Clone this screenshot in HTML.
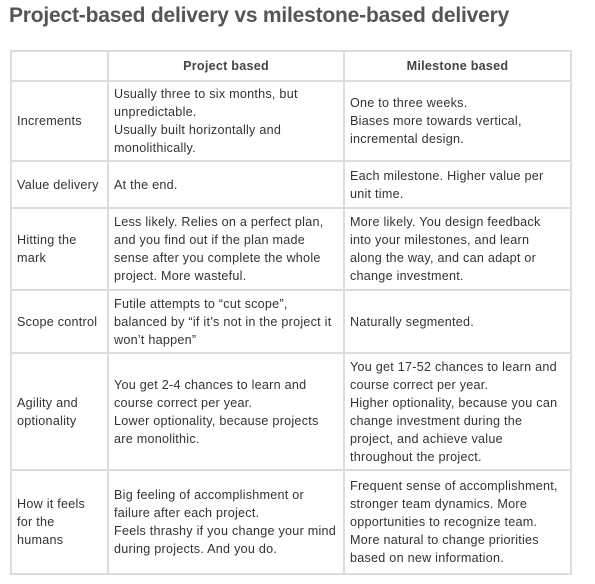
<!DOCTYPE html>
<html><head><style>
body{margin:0;width:595px;height:584px;background:#fff;font-family:"Liberation Sans",sans-serif;color:#333;}
h1{position:absolute;left:9px;top:4px;margin:0;font-size:21px;font-weight:bold;color:#555;letter-spacing:-0.2px;}
table{position:absolute;left:10px;top:50px;border-collapse:collapse;font-size:12.6px;line-height:18px;letter-spacing:0.25px;}
td,th{border:2px solid #ddd;padding:0 5px;vertical-align:middle;text-align:left;white-space:nowrap;}
th{text-align:center;font-weight:bold;color:#444;}
</style></head><body>
<h1>Project-based delivery vs milestone-based delivery</h1>
<table>
<colgroup><col style="width:97px"><col style="width:236px"><col style="width:227px"></colgroup>
<tr style="height:30px"><th></th><th>Project based</th><th>Milestone based</th></tr>
<tr style="height:80px"><td>Increments</td><td>Usually three to six months, but<br>unpredictable.<br>Usually built horizontally and<br>monolithically.</td><td>One to three weeks.<br>Biases more towards vertical,<br>incremental design.</td></tr>
<tr style="height:47px"><td>Value delivery</td><td>At the end.</td><td>Each milestone. Higher value per<br>unit time.</td></tr>
<tr style="height:82px"><td>Hitting the<br>mark</td><td>Less likely. Relies on a perfect plan,<br>and you find out if the plan made<br>sense after you complete the whole<br>project. More wasteful.</td><td>More likely. You design feedback<br>into your milestones, and learn<br>along the way, and can adapt or<br>change investment.</td></tr>
<tr style="height:63px"><td>Scope control</td><td>Futile attempts to “cut scope”,<br>balanced by “if it’s not in the project it<br>won’t happen”</td><td>Naturally segmented.</td></tr>
<tr style="height:117px"><td>Agility and<br>optionality</td><td>You get 2-4 chances to learn and<br>course correct per year.<br>Lower optionality, because projects<br>are monolithic.</td><td>You get 17-52 chances to learn and<br>course correct per year.<br>Higher optionality, because you can<br>change investment during the<br>project, and achieve value<br>throughout the project.</td></tr>
<tr style="height:104px"><td>How it feels<br>for the<br>humans</td><td>Big feeling of accomplishment or<br>failure after each project.<br>Feels thrashy if you change your mind<br>during projects. And you do.</td><td>Frequent sense of accomplishment,<br>stronger team dynamics. More<br>opportunities to recognize team.<br>More natural to change priorities<br>based on new information.</td></tr>
</table>
</body></html>
